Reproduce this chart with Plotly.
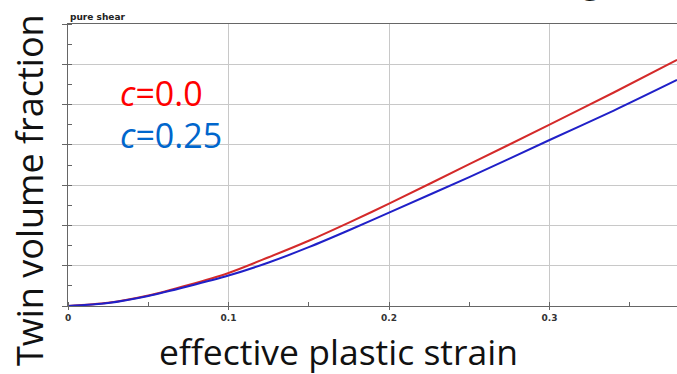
import plotly.graph_objects as go

# effective plastic strain samples
strain = [0.0, 0.025, 0.05, 0.075, 0.1, 0.125, 0.15, 0.175, 0.2, 0.25, 0.3, 0.34, 0.3794]
# twin volume fraction, c = 0.0
tvf_c0 = [0.0, 0.008, 0.026, 0.052, 0.082, 0.121, 0.162, 0.207, 0.254, 0.352, 0.450, 0.530, 0.611]
# twin volume fraction, c = 0.25
tvf_c025 = [0.0, 0.0075, 0.025, 0.049, 0.0755, 0.108, 0.146, 0.188, 0.232, 0.320, 0.412, 0.485, 0.561]

x_ticks = [0, 0.1, 0.2, 0.3]
x_ticktext = ["0", "0.1", "0.2", "0.3"]

fig = go.Figure()
fig.add_trace(go.Scatter(x=strain, y=tvf_c0, mode="lines",
                         line=dict(color="#d42a2a", width=2, shape="spline", smoothing=0.8),
                         showlegend=False))
fig.add_trace(go.Scatter(x=strain, y=tvf_c025, mode="lines",
                         line=dict(color="#2020c8", width=2, shape="spline", smoothing=0.8),
                         showlegend=False))

# white label boxes
fig.add_shape(type="rect", xref="paper", yref="paper", x0=0.047, x1=0.307, y0=0.641, y1=0.872,
              fillcolor="white", line=dict(width=0), layer="between")
fig.add_shape(type="rect", xref="paper", yref="paper", x0=0.047, x1=0.409, y0=0.478, y1=0.642,
              fillcolor="white", line=dict(width=0), layer="between")

fig.add_annotation(xref="paper", yref="paper", x=0.082, y=0.755, xanchor="left", yanchor="middle",
                   text="<i>c</i>=0.0", showarrow=False,
                   font=dict(family="Open Sans", size=34, color="#ff0000"))
fig.add_annotation(xref="paper", yref="paper", x=0.082, y=0.605, xanchor="left", yanchor="middle",
                   text="<i>c</i>=0.25", showarrow=False,
                   font=dict(family="Open Sans", size=34, color="#0066cc"))

fig.add_annotation(xref="paper", yref="paper", x=0.0, y=1.0, xanchor="left", yanchor="bottom",
                   text="<b>pure shear</b>", showarrow=False,
                   font=dict(family="DejaVu Sans", size=9, color="#222"))

# axis titles (centred on the figure)
fig.add_annotation(xref="paper", yref="paper", x=(338.5 - 68.3) / 608.7, y=(305.5 - 350) / 281.5,
                   xanchor="center", yanchor="middle", text="effective plastic strain", showarrow=False,
                   font=dict(family="Open Sans", size=35.5, color="#111"))
fig.add_annotation(xref="paper", yref="paper", x=(30 - 68.3) / 608.7, y=(305.5 - 190) / 281.5,
                   xanchor="center", yanchor="middle", text="Twin volume fraction", showarrow=False,
                   textangle=-90, font=dict(family="Open Sans", size=36, color="#111"))

# cut-off glyph at the top edge
fig.add_annotation(xref="paper", yref="paper", x=(591 - 68.3) / 608.7, y=(305.5 - 5) / 281.5,
                   xanchor="center", yanchor="bottom", text="g", showarrow=False,
                   font=dict(family="Open Sans", size=36, color="#111"))

fig.update_layout(
    width=677, height=374,
    margin=dict(l=68, r=0, t=24, b=68),
    plot_bgcolor="white", paper_bgcolor="white",
    font=dict(family="Open Sans", color="#111"),
    xaxis=dict(range=[0, 0.3794], tickvals=x_ticks, ticktext=x_ticktext,
               showgrid=True, gridcolor="#c8c8c8", gridwidth=1,
               showline=True, linecolor="#666", linewidth=1, mirror=True,
               ticks="outside", ticklen=3, tickcolor="#666",
               tickfont=dict(family="DejaVu Sans", size=9, color="#333", weight="bold"),
               minor=dict(dtick=0.05, tick0=0, ticks="inside", ticklen=4, tickcolor="#666", showgrid=False),
               zeroline=False),
    yaxis=dict(range=[0, 0.7], dtick=0.1, tick0=0,
               showgrid=True, gridcolor="#c8c8c8", gridwidth=1,
               showline=True, linecolor="#666", linewidth=1,
               ticks="outside", ticklen=5, tickcolor="#666", showticklabels=False,
               minor=dict(dtick=0.05, tick0=0, ticks="inside", ticklen=4, tickcolor="#666", showgrid=False),
               zeroline=False),
)

fig.write_html("out.html")
